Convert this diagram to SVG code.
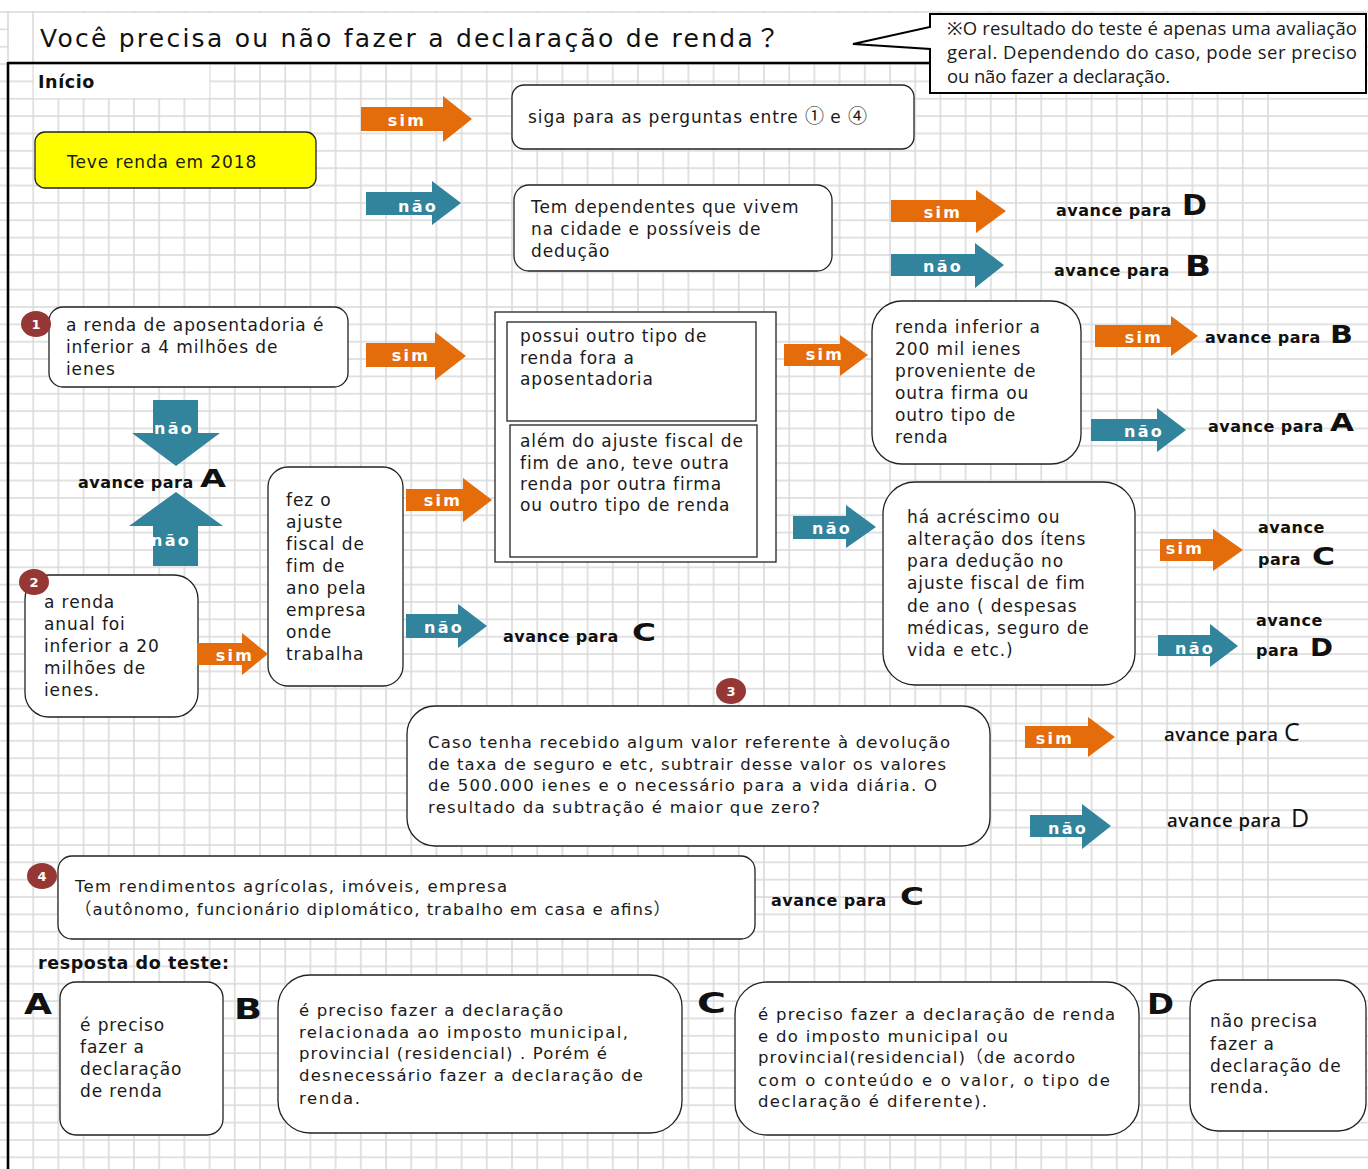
<svg xmlns="http://www.w3.org/2000/svg" width="1368" height="1169" viewBox="0 0 1368 1169">
<defs>
<pattern id="gv" patternUnits="userSpaceOnUse" x="-4.6" y="0" width="25.2" height="20"><line x1="12.6" y1="0" x2="12.6" y2="20" stroke="#D9D9D9" stroke-width="1.5"/></pattern>
<pattern id="gh" patternUnits="userSpaceOnUse" x="0" y="3.3235" width="20" height="17.353"><line x1="0" y1="8.6765" x2="20" y2="8.6765" stroke="#D9D9D9" stroke-width="1.5"/></pattern>
<style>
.box{fill:#fff;stroke:#222;stroke-width:1.3}
.t{font-family:"DejaVu Sans","Noto Sans CJK JP",sans-serif;font-size:17px;letter-spacing:0.9px;fill:#1a1a1a}
.tl{font-family:"DejaVu Sans","Noto Sans CJK JP",sans-serif;font-size:16.5px;fill:#1a1a1a}
.cal{font-family:"Open Sans","Noto Sans","Noto Sans CJK JP",sans-serif;font-size:18.5px;fill:#1a1a1a}
.av{font-family:"DejaVu Sans",sans-serif;font-size:16px;font-weight:700;letter-spacing:0.5px;fill:#111}
.avr{font-family:"Open Sans","Noto Sans",sans-serif;font-size:18.5px;font-weight:600;fill:#111}
.L{font-family:"DejaVu Sans",sans-serif;font-weight:700;fill:#111}
.Lr{font-family:"Open Sans","Liberation Sans",sans-serif;fill:#111}
.w{font-family:"DejaVu Sans",sans-serif;font-size:16px;font-weight:700;letter-spacing:2.2px;fill:#fff;text-anchor:middle}
.cj{font-family:"Noto Sans CJK JP",sans-serif;font-size:19px;letter-spacing:0}
.sim{fill:#E46C0A}
.nao{fill:#31849B}
.bd{fill:#953735}
.bn{font-family:"DejaVu Sans",sans-serif;font-size:13px;font-weight:700;fill:#fff;text-anchor:middle}
</style>
</defs>
<rect width="1368" height="1169" fill="#fff"/>
<g id="grid">
<rect x="0" y="11" width="1275" height="1158" fill="url(#gv)"/>
<rect x="0" y="5" width="1368" height="1164" fill="url(#gh)"/>
<rect x="9" y="13" width="921" height="49.5" fill="#fff"/>
<line x1="33" y1="12" x2="33" y2="63" stroke="#D9D9D9" stroke-width="1.5"/>
<rect x="33.8" y="64.8" width="175.4" height="33.4" fill="#fff"/>
<line x1="8" y1="63" x2="930" y2="63" stroke="#000" stroke-width="2.6"/>
<line x1="8" y1="62" x2="8" y2="1169" stroke="#000" stroke-width="2.6"/>
</g>
<g id="title">
<text x="40" y="47" font-family="DejaVu Sans, Noto Sans CJK JP, sans-serif" font-size="25" fill="#111" textLength="740" lengthAdjust="spacing">Você precisa ou não fazer a declaração de renda？</text>
</g>
<g id="note">
<path d="M930,14 H1366 V93 H930 V49 L853,44 L930,27 Z" fill="#fff" stroke="#000" stroke-width="2"/>
<text class="cal" x="947" y="35" textLength="410" lengthAdjust="spacing">※O resultado do teste é apenas uma avaliação</text>
<text class="cal" x="947" y="59" textLength="410" lengthAdjust="spacing">geral. Dependendo do caso, pode ser preciso</text>
<text class="cal" x="947" y="83" textLength="223" lengthAdjust="spacing">ou não fazer a declaração.</text>
</g>
<g id="inicio"><text x="38" y="88" font-family="DejaVu Sans, sans-serif" font-size="17.5" font-weight="700" letter-spacing="0.6" fill="#111">Início</text></g>
<g id="start">
<rect x="35" y="132" width="281" height="56" rx="10" fill="#FFFF00" stroke="#222" stroke-width="1.3"/>
<text class="t" x="67" y="168" font-size="17.5" letter-spacing="0.7">Teve renda em 2018</text>
</g>
<g id="siga">
<rect class="box" x="512" y="85" width="402" height="64" rx="12"/>
<text class="t" x="528" y="123">siga para as perguntas entre <tspan class="cj">①</tspan> e <tspan class="cj">④</tspan></text>
</g>
<g id="dependentes">
<rect class="box" x="514" y="185" width="318" height="86" rx="15"/>
<text class="t" x="531" y="213">Tem dependentes que vivem</text>
<text class="t" x="531" y="235">na cidade e possíveis de</text>
<text class="t" x="531" y="257">dedução</text>
</g>
<g id="q1">
<rect class="box" x="49" y="307" width="299" height="80" rx="14"/>
<text class="t" x="66" y="331">a renda de aposentadoria é</text>
<text class="t" x="66" y="353">inferior a 4 milhões de</text>
<text class="t" x="66" y="375">ienes</text>
<ellipse class="bd" cx="36" cy="324" rx="15" ry="13"/>
<text class="bn" x="36" y="329">1</text>
</g>
<g id="possui">
<rect x="495" y="312" width="281" height="250" fill="#fff" stroke="#222" stroke-width="1.3"/>
<rect x="507" y="322" width="249" height="99" fill="#fff" stroke="#222" stroke-width="1.3"/>
<rect x="510" y="425" width="247" height="132" fill="#fff" stroke="#222" stroke-width="1.3"/>
<text class="t" x="520" y="342">possui  outro tipo de</text>
<text class="t" x="520" y="364">renda fora a</text>
<text class="t" x="520" y="385">aposentadoria</text>
<text class="t" x="520" y="447">além do ajuste fiscal de</text>
<text class="t" x="520" y="469">fim de ano, teve outra</text>
<text class="t" x="520" y="490">renda por outra firma</text>
<text class="t" x="520" y="511">ou outro tipo de renda</text>
</g>
<g id="renda200">
<rect class="box" x="872" y="301" width="209" height="163" rx="30"/>
<text class="t" x="895" y="333">renda inferior a</text>
<text class="t" x="895" y="355">200 mil ienes</text>
<text class="t" x="895" y="377">proveniente  de</text>
<text class="t" x="895" y="399">outra firma  ou</text>
<text class="t" x="895" y="421">outro tipo de</text>
<text class="t" x="895" y="443">renda</text>
</g>
<g id="fez">
<rect class="box" x="268" y="467" width="135" height="219" rx="20"/>
<text class="t" x="286" y="506">fez o</text>
<text class="t" x="286" y="528">ajuste</text>
<text class="t" x="286" y="550">fiscal de</text>
<text class="t" x="286" y="572">fim de</text>
<text class="t" x="286" y="594">ano pela</text>
<text class="t" x="286" y="616">empresa</text>
<text class="t" x="286" y="638">onde</text>
<text class="t" x="286" y="660">trabalha</text>
</g>
<g id="acrescimo">
<rect class="box" x="883" y="482" width="252" height="203" rx="32"/>
<text class="t" x="907" y="523">há acréscimo ou</text>
<text class="t" x="907" y="545">alteração  dos ítens</text>
<text class="t" x="907" y="567">para dedução no</text>
<text class="t" x="907" y="589">ajuste fiscal  de fim</text>
<text class="t" x="907" y="612">de ano ( despesas</text>
<text class="t" x="907" y="634">médicas, seguro de</text>
<text class="t" x="907" y="656">vida e etc.)</text>
</g>
<g id="q2">
<rect class="box" x="25" y="575" width="173" height="142" rx="24"/>
<text class="t" x="44" y="608">a renda</text>
<text class="t" x="44" y="630">anual foi</text>
<text class="t" x="44" y="652">inferior  a 20</text>
<text class="t" x="44" y="674">milhões de</text>
<text class="t" x="44" y="696">ienes.</text>
<ellipse class="bd" cx="34" cy="582" rx="15" ry="13"/>
<text class="bn" x="34" y="587">2</text>
</g>
<g id="q3">
<rect class="box" x="407" y="706" width="583" height="140" rx="28"/>
<text class="tl" x="428" y="748" textLength="522" lengthAdjust="spacing">Caso tenha recebido algum valor referente à devolução</text>
<text class="tl" x="428" y="770" textLength="518" lengthAdjust="spacing">de taxa de seguro e etc,  subtrair desse valor os valores</text>
<text class="tl" x="428" y="791" textLength="509" lengthAdjust="spacing">de 500.000 ienes  e  o necessário para a vida diária.  O</text>
<text class="tl" x="428" y="813" textLength="392" lengthAdjust="spacing">resultado da subtração é maior que zero?</text>
<ellipse class="bd" cx="731" cy="691" rx="15" ry="13"/>
<text class="bn" x="731" y="696">3</text>
</g>
<g id="q4">
<rect class="box" x="58" y="856" width="697" height="83" rx="14"/>
<text class="tl" x="75" y="892" textLength="432" lengthAdjust="spacing">Tem rendimentos agrícolas, imóveis, empresa</text>
<text class="tl" x="75" y="915" textLength="595" lengthAdjust="spacing">（autônomo, funcionário diplomático, trabalho em casa e afins）</text>
<ellipse class="bd" cx="42" cy="876" rx="15" ry="13"/>
<text class="bn" x="42" y="881">4</text>
</g>
<g id="results">
<text class="av" x="1056" y="216">avance para</text><text class="L" x="1182" y="215" font-size="29" textLength="25" lengthAdjust="spacingAndGlyphs">D</text>
<text class="av" x="1054" y="276">avance para</text><text class="L" x="1185" y="276" font-size="29" textLength="26" lengthAdjust="spacingAndGlyphs">B</text>
<text class="av" x="1205" y="343">avance para</text><text class="L" x="1330" y="343" font-size="25" textLength="23" lengthAdjust="spacingAndGlyphs">B</text>
<text class="av" x="1208" y="432">avance para</text><text class="L" x="1330" y="431" font-size="25" textLength="24" lengthAdjust="spacingAndGlyphs">A</text>
<text class="av" x="78" y="488">avance para</text><text class="L" x="200" y="487" font-size="24" textLength="26" lengthAdjust="spacingAndGlyphs">A</text>
<text class="av" x="503" y="642">avance para</text><text class="L" x="632" y="641" font-size="24" textLength="24" lengthAdjust="spacingAndGlyphs">C</text>
<text class="av" x="1258" y="533">avance</text>
<text class="av" x="1258" y="565">para</text><text class="L" x="1312" y="565" font-size="25" textLength="23" lengthAdjust="spacingAndGlyphs">C</text>
<text class="av" x="1256" y="626">avance</text>
<text class="av" x="1256" y="656">para</text><text class="L" x="1310" y="656" font-size="25" textLength="23" lengthAdjust="spacingAndGlyphs">D</text>
<text class="avr" x="1164" y="741" textLength="114" lengthAdjust="spacing">avance para</text><text class="Lr" x="1284" y="741" font-size="25">C</text>
<text class="avr" x="1167" y="827" textLength="114" lengthAdjust="spacing">avance para</text><text class="Lr" x="1291" y="827" font-size="25">D</text>
<text class="av" x="771" y="906">avance para</text><text class="L" x="900" y="905" font-size="24" textLength="24" lengthAdjust="spacingAndGlyphs">C</text>
</g>
<g id="connectors">
<polygon class="sim" points="361,107 443,107 443,96 472,119 443,142 443,131 361,131"/><text class="w" x="407" y="126">sim</text>
<polygon class="nao" points="366,192 432,192 432,181 461,203 432,225 432,215 366,215"/><text class="w" x="418" y="212">não</text>
<polygon class="sim" points="891,200 976,200 976,190 1006,211 976,233 976,222 891,222"/><text class="w" x="943" y="218">sim</text>
<polygon class="nao" points="891,254 975,254 975,243 1004,265 975,288 975,276 891,276"/><text class="w" x="943" y="272">não</text>
<polygon class="sim" points="366,343 435,343 435,332 466,356 435,380 435,367 366,367"/><text class="w" x="411" y="361">sim</text>
<polygon class="sim" points="784,344 840,344 840,335 868,355 840,376 840,366 784,366"/><text class="w" x="825" y="360">sim</text>
<polygon class="sim" points="1095,325 1171,325 1171,316 1198,336 1171,356 1171,347 1095,347"/><text class="w" x="1144" y="343">sim</text>
<polygon class="nao" points="1091,419 1157,419 1157,408 1186,430 1157,452 1157,441 1091,441"/><text class="w" x="1144" y="437">não</text>
<polygon class="sim" points="406,489 463,489 463,478 492,500 463,522 463,511 406,511"/><text class="w" x="443" y="506">sim</text>
<polygon class="nao" points="793,516 846,516 846,505 876,527 846,548 846,539 793,539"/><text class="w" x="832" y="534">não</text>
<polygon class="nao" points="406,614 458,614 458,604 487,626 458,648 458,638 406,638"/><text class="w" x="444" y="633">não</text>
<polygon class="sim" points="1160,539 1213,539 1213,529 1243,550 1213,571 1213,561 1160,561"/><text class="w" x="1185" y="554">sim</text>
<polygon class="nao" points="1158,635 1210,635 1210,624 1238,646 1210,667 1210,656 1158,656"/><text class="w" x="1195" y="654">não</text>
<polygon class="sim" points="197,643 242,643 242,633 268,654 242,675 242,665 197,665"/><text class="w" x="235" y="661">sim</text>
<polygon class="sim" points="1025,726 1088,726 1088,717 1115,737 1088,757 1088,748 1025,748"/><text class="w" x="1055" y="744">sim</text>
<polygon class="nao" points="1030,815 1082,815 1082,804 1111,826 1082,849 1082,837 1030,837"/><text class="w" x="1068" y="834">não</text>
<polygon class="nao" points="153,400 198,400 198,433 220,433 176,466 132,433 153,433"/><text class="w" x="174" y="434">não</text>
<polygon class="nao" points="176,492 223,526 198,526 198,566 153,566 153,526 129,526"/><text class="w" x="171" y="546">não</text>
</g>
<g id="answers">
<text x="38" y="969" font-family="DejaVu Sans, sans-serif" font-size="17.5" font-weight="700" letter-spacing="0.6" fill="#111">resposta do teste:</text>
<text class="L" x="24" y="1014" font-size="28" textLength="28" lengthAdjust="spacingAndGlyphs">A</text>
<g id="ansA">
<rect class="box" x="60" y="982" width="163" height="153" rx="16"/>
<text class="t" x="80" y="1031">é preciso</text>
<text class="t" x="80" y="1053">fazer a</text>
<text class="t" x="80" y="1075">declaração</text>
<text class="t" x="80" y="1097">de renda</text>
</g>
<text class="L" x="234" y="1019" font-size="28" textLength="28" lengthAdjust="spacingAndGlyphs">B</text>
<g id="ansB">
<rect class="box" x="278" y="975" width="404" height="158" rx="32"/>
<text class="tl" x="299" y="1016" textLength="264" lengthAdjust="spacing">é preciso fazer a declaração</text>
<text class="tl" x="299" y="1038" textLength="329" lengthAdjust="spacing">relacionada ao imposto  municipal,</text>
<text class="tl" x="299" y="1059" textLength="308" lengthAdjust="spacing">provincial (residencial) . Porém é</text>
<text class="tl" x="299" y="1081" textLength="344" lengthAdjust="spacing">desnecessário  fazer a declaração de</text>
<text class="tl" x="299" y="1104" textLength="61" lengthAdjust="spacing">renda.</text>
</g>
<text class="L" x="697" y="1013" font-size="28" textLength="29" lengthAdjust="spacingAndGlyphs">C</text>
<g id="ansC">
<rect class="box" x="735" y="982" width="404" height="153" rx="32"/>
<text class="tl" x="758" y="1020" textLength="357" lengthAdjust="spacing">é preciso fazer a declaração  de renda</text>
<text class="tl" x="758" y="1042" textLength="250" lengthAdjust="spacing">e do imposto municipal ou</text>
<text class="tl" x="758" y="1063" textLength="317" lengthAdjust="spacing">provincial(residencial)（de acordo</text>
<text class="tl" x="758" y="1086" textLength="352" lengthAdjust="spacing">com o conteúdo  e  o  valor, o tipo de</text>
<text class="tl" x="758" y="1107" textLength="229" lengthAdjust="spacing">declaração  é diferente).</text>
</g>
<text class="L" x="1147" y="1014" font-size="28" textLength="27" lengthAdjust="spacingAndGlyphs">D</text>
<g id="ansD">
<rect class="box" x="1190" y="980" width="176" height="151" rx="28"/>
<text class="t" x="1210" y="1027">não precisa</text>
<text class="t" x="1210" y="1050">fazer a</text>
<text class="t" x="1210" y="1072">declaração de</text>
<text class="t" x="1210" y="1093">renda.</text>
</g>
</g>
</svg>
